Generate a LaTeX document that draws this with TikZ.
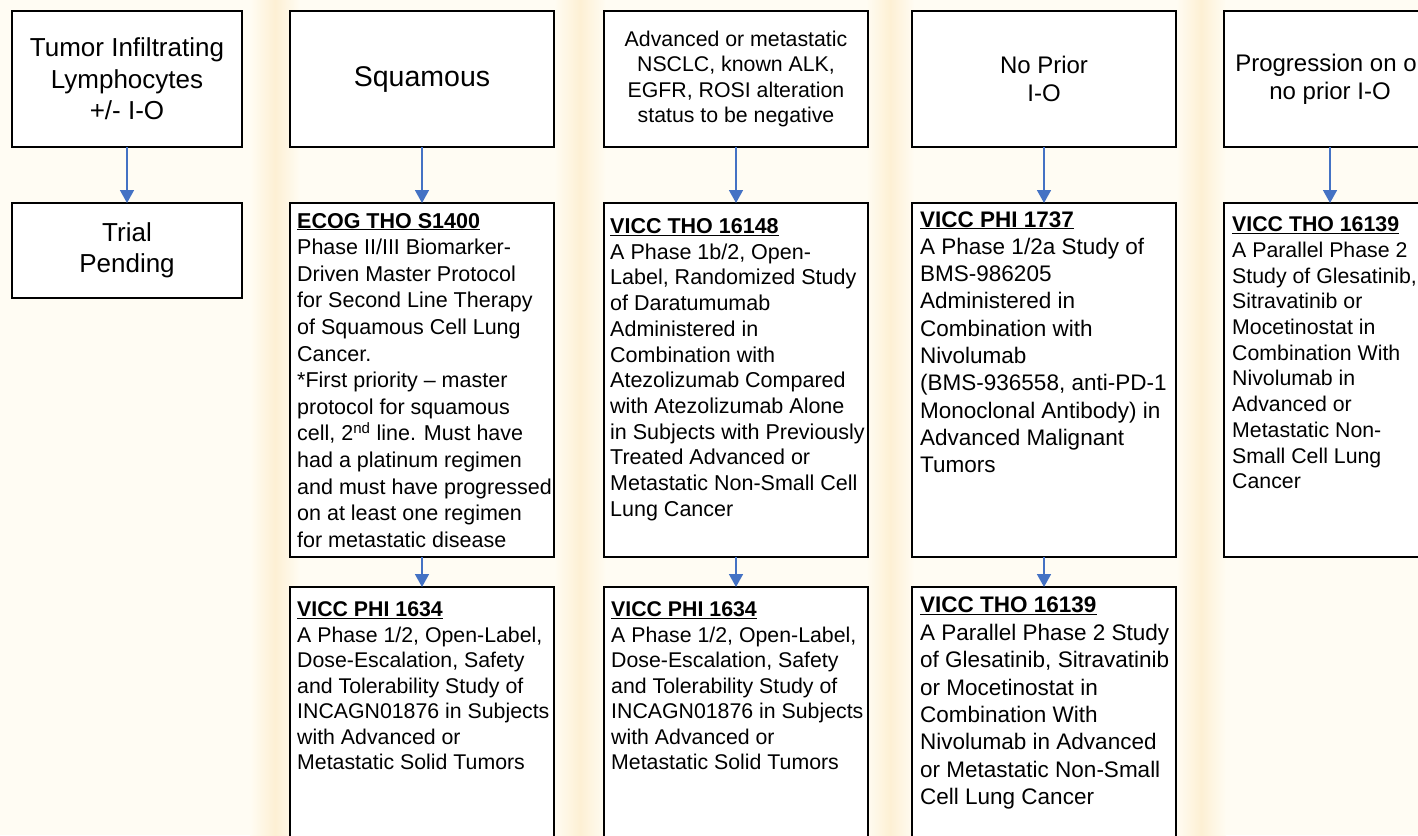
\documentclass[tikz,border=0pt]{standalone}
\usepackage{fontspec}
\setmainfont{Liberation Sans}
\usetikzlibrary{arrows.meta}
\definecolor{cream}{HTML}{FFFCF3}
\definecolor{wmark}{HTML}{FDF0D4}
\definecolor{arrowblue}{HTML}{4472C4}
\tikzset{
  box/.style={draw=black, line width=1.8pt, fill=white, anchor=north west, inner sep=0pt, outer sep=0pt},
  ctext/.style={align=center, inner sep=0pt},
  ltext/.style={align=left, inner sep=0pt, anchor=north west},
  flow/.style={draw=arrowblue, line width=1.6pt, -{Triangle[width=14pt,length=13pt]}},
}
\newcommand{\ttl}[1]{\underline{\textbf{#1}}}
\begin{document}
\begin{tikzpicture}[x=1pt,y=-1pt]
\useasboundingbox (0,0) rectangle (1418,835);
\clip (0,0) rectangle (1418,835);
\fill[cream] (0,0) rectangle (1418,835);
\foreach \a/\b in {250/300, 554/606, 866/914, 1176/1226}{
  \shade[left color=cream, right color=cream, middle color=wmark] (\a,0) rectangle (\b,835);
}

% ---------- row 1 ----------
\node[box, minimum width=230, minimum height=136] (t1) at (12,11) {};
\node[box, minimum width=264, minimum height=136] (t2) at (290,11) {};
\node[box, minimum width=264, minimum height=136] (t3) at (604,11) {};
\node[box, minimum width=264, minimum height=136] (t4) at (912,11) {};
\node[box, minimum width=212, minimum height=136] (t5) at (1224,11) {};

\node[ctext, font=\fontsize{26}{31.5}\selectfont] (l1) at (t1.center) {Tumor Infiltrating\\Lymphocytes\\+/- I-O};
\node[ctext, font=\fontsize{28.5}{34}\selectfont] (l2) at ([yshift=-1]t2.center) {Squamous};
\node[ctext, font=\fontsize{21.3}{25.3}\selectfont] (l3) at (t3.center) {Advanced or metastatic\\NSCLC, known ALK,\\EGFR, ROSI alteration\\status to be negative};
\node[ctext, font=\fontsize{24}{28}\selectfont] (l4) at (t4.center) {No Prior\\I-O};
\node[ctext, font=\fontsize{24}{28}\selectfont] (l5) at (t5.center) {Progression on or\\no prior I-O};

% ---------- row 2 ----------
\node[box, minimum width=230, minimum height=95] (m1) at (12,203) {};
\node[box, minimum width=264, minimum height=354] (m2) at (290,203) {};
\node[box, minimum width=264, minimum height=354] (m3) at (604,203) {};
\node[box, minimum width=264, minimum height=354] (m4) at (912,203) {};
\node[box, minimum width=212, minimum height=354] (m5) at (1224,203) {};

\node[ctext, font=\fontsize{26}{31}\selectfont] (n1) at (m1.center) {Trial\\Pending};

\node[ltext, font=\fontsize{21.5}{26.6}\selectfont] (n2) at (297,212.8) {\ttl{ECOG THO S1400}\\
Phase II/III Biomarker-\\
Driven Master Protocol\\
for Second Line Therapy\\
of Squamous Cell Lung\\
Cancer.\\
*First priority – master\\
protocol for squamous\\
cell, 2\textsuperscript{nd} line. Must have\\
had a platinum regimen\\
and must have progressed\\
on at least one regimen\\
for metastatic disease};

\node[ltext, font=\fontsize{21.5}{25.7}\selectfont] (n3) at (610,218.3) {\ttl{VICC THO 16148}\\
A Phase 1b/2, Open-\\
Label, Randomized Study\\
of Daratumumab\\
Administered in\\
Combination with\\
Atezolizumab Compared\\
with Atezolizumab Alone\\
in Subjects with Previously\\
Treated Advanced or\\
Metastatic Non-Small Cell\\
Lung Cancer};

\node[ltext, font=\fontsize{22.5}{27.3}\selectfont] (n4) at (920,211.1) {\ttl{VICC PHI 1737}\\
A Phase 1/2a Study of\\
BMS-986205\\
Administered in\\
Combination with\\
Nivolumab\\
(BMS-936558, anti-PD-1\\
Monoclonal Antibody) in\\
Advanced Malignant\\
Tumors};

\node[ltext, font=\fontsize{21.3}{25.7}\selectfont] (n5) at (1232,216.7) {\ttl{VICC THO 16139}\\
A Parallel Phase 2\\
Study of Glesatinib,\\
Sitravatinib or\\
Mocetinostat in\\
Combination With\\
Nivolumab in\\
Advanced or\\
Metastatic Non-\\
Small Cell Lung\\
Cancer};

% ---------- row 3 ----------
\node[box, minimum width=264, minimum height=290] (b2) at (290,587) {};
\node[box, minimum width=264, minimum height=290] (b3) at (604,587) {};
\node[box, minimum width=264, minimum height=290] (b4) at (912,587) {};

\node[ltext, font=\fontsize{21.3}{25.5}\selectfont] (c2) at (297,601.5) {\ttl{VICC PHI 1634}\\
A Phase 1/2, Open-Label,\\
Dose-Escalation, Safety\\
and Tolerability Study of\\
INCAGN01876 in Subjects\\
with Advanced or\\
Metastatic Solid Tumors};

\node[ltext, font=\fontsize{21.3}{25.5}\selectfont] (c3) at (611,601.5) {\ttl{VICC PHI 1634}\\
A Phase 1/2, Open-Label,\\
Dose-Escalation, Safety\\
and Tolerability Study of\\
INCAGN01876 in Subjects\\
with Advanced or\\
Metastatic Solid Tumors};

\node[ltext, font=\fontsize{22.5}{27.4}\selectfont] (c4) at (920,596.9) {\ttl{VICC THO 16139}\\
A Parallel Phase 2 Study\\
of Glesatinib, Sitravatinib\\
or Mocetinostat in\\
Combination With\\
Nivolumab in Advanced\\
or Metastatic Non-Small\\
Cell Lung Cancer};

% ---------- connectors ----------
\draw[flow] (t1.south) -- (m1.north);
\draw[flow] (t2.south) -- (m2.north);
\draw[flow] (t3.south) -- (m3.north);
\draw[flow] (t4.south) -- (m4.north);
\draw[flow] (t5.south) -- (m5.north);
\draw[flow] (m2.south) -- (b2.north);
\draw[flow] (m3.south) -- (b3.north);
\draw[flow] (m4.south) -- (b4.north);
\end{tikzpicture}
\end{document}
